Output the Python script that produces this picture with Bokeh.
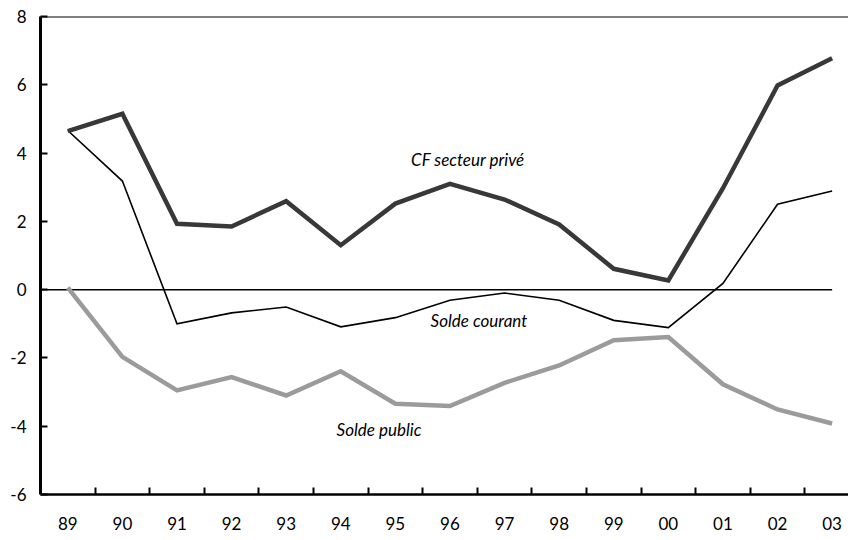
from bokeh.plotting import figure
from bokeh.models import Range1d, FixedTicker, Span, Label, ColumnDataSource
from bokeh.embed import file_html
from bokeh.resources import INLINE

years = ["89", "90", "91", "92", "93", "94", "95", "96", "97", "98", "99", "00", "01", "02", "03"]
cf_prive = [4.64, 5.15, 1.93, 1.85, 2.59, 1.30, 2.52, 3.10, 2.64, 1.91, 0.61, 0.27, 2.97, 5.98, 6.78]
solde_courant = [4.66, 3.18, -1.00, -0.68, -0.51, -1.09, -0.82, -0.31, -0.10, -0.31, -0.90, -1.11, 0.18, 2.50, 2.89]
solde_public = [0.06, -1.97, -2.95, -2.56, -3.10, -2.39, -3.34, -3.41, -2.73, -2.22, -1.48, -1.39, -2.77, -3.51, -3.92]
y_ticks = [-6, -4, -2, 0, 2, 4, 6, 8]

idx = list(range(len(years)))
src = ColumnDataSource(dict(x=idx, cf=cf_prive, sc=solde_courant, sp=solde_public))

FONT = "Lato"

p = figure(width=848, height=532, output_backend="svg", toolbar_location=None,
           x_range=Range1d(-0.5, 14.3), y_range=Range1d(-6, 8),
           min_border_left=40, min_border_top=16, min_border_right=0, min_border_bottom=38)
p.outline_line_color = None
p.grid.grid_line_color = None
p.background_fill_color = "white"

# top line
p.add_layout(Span(location=8, dimension="width", line_color="black", line_width=2))

# zero line from axis to last category
p.segment(x0=p.x_range.start, y0=0, x1=idx[-1], y1=0, line_color="black", line_width=1.5)

p.line("x", "sp", source=src, line_color="#9b9b9b", line_width=4.5, line_join="miter")
p.line("x", "sc", source=src, line_color="black", line_width=1.6, line_join="miter")
p.line("x", "cf", source=src, line_color="#383838", line_width=4.5, line_join="miter")

# x axis
xa = p.xaxis[0]
xa.ticker = FixedTicker(ticks=idx, minor_ticks=[i + 0.5 for i in idx])
xa.major_label_overrides = {i: y for i, y in zip(idx, years)}
xa.major_tick_in = 0
xa.major_tick_out = 0
xa.minor_tick_in = 7
xa.minor_tick_out = 0
xa.minor_tick_line_color = "black"
xa.minor_tick_line_width = 2
xa.axis_line_width = 2.5
xa.axis_line_color = "black"
xa.major_label_standoff = 22
xa.major_label_text_font = FONT
xa.major_label_text_font_size = "17px"
xa.major_label_text_color = "black"

# y axis
ya = p.yaxis[0]
ya.ticker = FixedTicker(ticks=y_ticks)
ya.major_label_overrides = {t: str(t) for t in y_ticks}
ya.major_tick_in = 7
ya.major_tick_out = 0
ya.major_tick_line_width = 2
ya.major_tick_line_color = "black"
ya.minor_tick_line_color = None
ya.axis_line_width = 3
ya.axis_line_color = "black"
ya.major_label_standoff = 14
ya.major_label_text_font = FONT
ya.major_label_text_font_size = "17px"
ya.major_label_text_color = "black"

def lab(txt, x, y):
    p.add_layout(Label(x=x, y=y, text=txt, text_font=FONT, text_font_style="italic",
                       text_font_size="17px", text_align="center", text_baseline="middle",
                       text_color="black"))

lab("CF secteur privé", 7.33, 3.82)
lab("Solde courant", 7.53, -0.90)
lab("Solde public", 5.70, -4.09)

open("out.html", "w").write(file_html(p, INLINE))
